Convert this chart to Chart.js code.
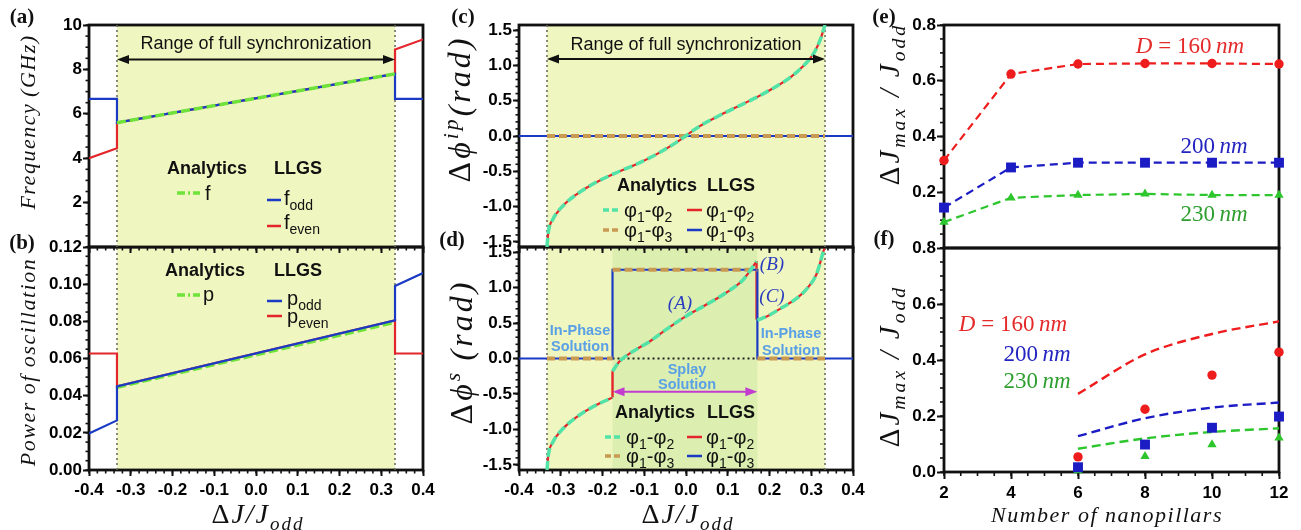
<!DOCTYPE html>
<html>
<head>
<meta charset="utf-8">
<script src="https://cdn.jsdelivr.net/npm/chart.js@4.4.0/dist/chart.umd.min.js"></script>
<style>
html, body { margin: 0; padding: 0; background: #fff; }
#fig { position: relative; width: 1301px; height: 530px; overflow: hidden; font-family: "Liberation Sans", Arial, sans-serif; color: #111; }
#fig canvas, #fig svg { position: absolute; left: 0; top: 0; }
.t { position: absolute; white-space: nowrap; line-height: 1; transform: translate(-50%, -50%); }
.l { position: absolute; white-space: nowrap; line-height: 1; transform: translateY(-50%); }
.rot { transform: translate(-50%, -50%) rotate(-90deg); }
.math { font-family: "Liberation Serif", "DejaVu Serif", serif; font-style: italic; font-size: 22px; letter-spacing: 1.5px; }
.math sub, .math sup { font-size: 0.68em; line-height: 0; }
.up { font-style: normal; }
.panel { font-family: "Liberation Serif", serif; font-weight: bold; font-size: 21px; }
.hd { font-weight: bold; font-size: 18px; }
.rng { font-size: 18px; }
.leg { font-size: 20px; }
.leg sub { font-size: 14px; line-height: 0; }
.note { font-weight: bold; font-size: 14.5px; color: #5aa0e6; }
.lab { font-family: "Liberation Serif", serif; font-style: italic; font-size: 19px; color: #2a3cc0; }
.dn { font-family: "Liberation Serif", serif; font-style: italic; font-size: 23px; }
</style>
</head>
<body>
<div id="fig">
  <canvas id="cb" width="1301" height="530"></canvas>
  <canvas id="cd" width="1301" height="530"></canvas>
  <canvas id="cf" width="1301" height="530"></canvas>
  <canvas id="ca" width="1301" height="530"></canvas>
  <canvas id="cc" width="1301" height="530"></canvas>
  <canvas id="ce" width="1301" height="530"></canvas>

  <svg width="1301" height="530">
    <!-- legend keys (a) -->
    <line x1="177" y1="193" x2="200" y2="193" stroke="#6fe33a" stroke-width="3.5" stroke-dasharray="8 3 2 3"/>
    <line x1="267" y1="200" x2="281" y2="200" stroke="#1b3bc4" stroke-width="2.5"/>
    <line x1="267" y1="226" x2="281" y2="226" stroke="#e3262b" stroke-width="2.5"/>
    <!-- legend keys (b) -->
    <line x1="177" y1="295" x2="200" y2="295" stroke="#6fe33a" stroke-width="3.5" stroke-dasharray="8 3 2 3"/>
    <line x1="267" y1="301" x2="282" y2="301" stroke="#1b3bc4" stroke-width="2.5"/>
    <line x1="267" y1="316" x2="282" y2="316" stroke="#e3262b" stroke-width="2.5"/>
    <!-- legend keys (c) -->
    <line x1="603" y1="210" x2="619" y2="210" stroke="#52e3a8" stroke-width="3.5" stroke-dasharray="6 3"/>
    <line x1="687" y1="210" x2="702" y2="210" stroke="#e3262b" stroke-width="2.5"/>
    <line x1="603" y1="230" x2="619" y2="230" stroke="#c99a52" stroke-width="3.5" stroke-dasharray="6 3"/>
    <line x1="687" y1="230" x2="702" y2="230" stroke="#1b3bc4" stroke-width="2.5"/>
    <!-- legend keys (d) -->
    <line x1="605" y1="437" x2="621" y2="437" stroke="#52e3a8" stroke-width="3.5" stroke-dasharray="6 3"/>
    <line x1="687" y1="437" x2="702" y2="437" stroke="#e3262b" stroke-width="2.5"/>
    <line x1="605" y1="456" x2="621" y2="456" stroke="#c99a52" stroke-width="3.5" stroke-dasharray="6 3"/>
    <line x1="687" y1="456" x2="702" y2="456" stroke="#1b3bc4" stroke-width="2.5"/>
  </svg>

  <!-- panel letters -->
  <div class="t panel" style="left:22px;top:16px">(a)</div>
  <div class="t panel" style="left:22px;top:242px">(b)</div>
  <div class="t panel" style="left:463px;top:16px">(c)</div>
  <div class="t panel" style="left:452px;top:239px">(d)</div>
  <div class="t panel" style="left:884px;top:16px">(e)</div>
  <div class="t panel" style="left:884px;top:238px">(f)</div>

  <!-- axis titles -->
  <div class="t rot math" style="left:28px;top:122px">Frequency&#8201;(GHz)</div>
  <div class="t rot math" style="left:28px;top:362px">Power of oscillation</div>
  <div class="t math" style="left:258px;top:514px;font-size:28px;letter-spacing:2px"><span class="up">Δ</span>J/J<sub>odd</sub></div>
  <div class="t math" style="left:688px;top:514px;font-size:28px;letter-spacing:2px"><span class="up">Δ</span>J/J<sub>odd</sub></div>
  <div class="t rot math" style="left:459px;top:109px;font-size:32px;letter-spacing:3px"><span class="up">Δ</span>ϕ<sup>ip</sup>(rad)</div>
  <div class="t rot math" style="left:461px;top:352px;font-size:32px;letter-spacing:3px"><span class="up">Δ</span>ϕ<sup>s</sup>&#8201;(rad)</div>
  <div class="t rot math" style="left:889px;top:104px;font-size:29px;letter-spacing:3px"><span class="up">Δ</span>J<sub>max</sub>&#8201;/&#8201;J<sub>odd</sub></div>
  <div class="t rot math" style="left:889px;top:366px;font-size:29px;letter-spacing:3px"><span class="up">Δ</span>J<sub>max</sub>&#8201;/&#8201;J<sub>odd</sub></div>
  <div class="t math" style="left:1107px;top:515px">Number of nanopillars</div>

  <!-- (a) -->
  <div class="t rng" style="left:256px;top:43px">Range of full synchronization</div>
  <div class="t hd" style="left:207px;top:168px">Analytics</div>
  <div class="t hd" style="left:298px;top:168px">LLGS</div>
  <div class="l leg" style="left:205px;top:193px">f</div>
  <div class="l leg" style="left:284px;top:198px">f<sub>odd</sub></div>
  <div class="l leg" style="left:284px;top:222px">f<sub>even</sub></div>

  <!-- (b) -->
  <div class="t hd" style="left:205px;top:270px">Analytics</div>
  <div class="t hd" style="left:298px;top:270px">LLGS</div>
  <div class="l leg" style="left:203px;top:294px">p</div>
  <div class="l leg" style="left:287px;top:298px">p<sub>odd</sub></div>
  <div class="l leg" style="left:287px;top:316px">p<sub>even</sub></div>

  <!-- (c) -->
  <div class="t rng" style="left:686px;top:44px">Range of full synchronization</div>
  <div class="t hd" style="left:657px;top:185px">Analytics</div>
  <div class="t hd" style="left:731px;top:185px">LLGS</div>
  <div class="l leg" style="left:624px;top:210px">φ<sub>1</sub>-φ<sub>2</sub></div>
  <div class="l leg" style="left:706px;top:210px">φ<sub>1</sub>-φ<sub>2</sub></div>
  <div class="l leg" style="left:624px;top:230px">φ<sub>1</sub>-φ<sub>3</sub></div>
  <div class="l leg" style="left:706px;top:230px">φ<sub>1</sub>-φ<sub>3</sub></div>

  <!-- (d) -->
  <div class="t note" style="left:580px;top:330px">In-Phase</div>
  <div class="t note" style="left:580px;top:346px">Solution</div>
  <div class="t note" style="left:791px;top:333px">In-Phase</div>
  <div class="t note" style="left:791px;top:350px">Solution</div>
  <div class="t note" style="left:687px;top:369px">Splay</div>
  <div class="t note" style="left:687px;top:384px">Solution</div>
  <div class="t lab" style="left:680px;top:302px">(A)</div>
  <div class="t lab" style="left:772px;top:263px">(B)</div>
  <div class="t lab" style="left:772px;top:295px">(C)</div>
  <div class="t hd" style="left:655px;top:412px">Analytics</div>
  <div class="t hd" style="left:731px;top:412px">LLGS</div>
  <div class="l leg" style="left:626px;top:437px">φ<sub>1</sub>-φ<sub>2</sub></div>
  <div class="l leg" style="left:706px;top:437px">φ<sub>1</sub>-φ<sub>2</sub></div>
  <div class="l leg" style="left:626px;top:456px">φ<sub>1</sub>-φ<sub>3</sub></div>
  <div class="l leg" style="left:706px;top:456px">φ<sub>1</sub>-φ<sub>3</sub></div>

  <!-- (e) -->
  <div class="t dn" style="left:1190px;top:45px;color:#e52a2a">D <span class="up">=</span> <span class="up">160</span>&#8201;nm</div>
  <div class="t dn" style="left:1214px;top:145px;color:#2424c0"><span class="up">200</span>&#8201;nm</div>
  <div class="t dn" style="left:1214px;top:213px;color:#2e9e2e"><span class="up">230</span>&#8201;nm</div>

  <!-- (f) -->
  <div class="t dn" style="left:1013px;top:323px;color:#e52a2a">D <span class="up">=</span> <span class="up">160</span>&#8201;nm</div>
  <div class="t dn" style="left:1037px;top:353px;color:#2424c0"><span class="up">200</span>&#8201;nm</div>
  <div class="t dn" style="left:1037px;top:380px;color:#2e9e2e"><span class="up">230</span>&#8201;nm</div>
</div>

<script>
// ---------- values ----------
const detuningRange = [-0.4, 0.4];
const detuningTicks = [-0.4, -0.3, -0.2, -0.1, 0, 0.1, 0.2, 0.3, 0.4];
const syncEdges = [-0.333, 0.333];
const splayEdges = [-0.176, 0.171];

// (a) frequency (GHz)
const freqRange = [0, 10];
const freqTicks = [2, 4, 6, 8, 10];
const freqOdd = [[-0.4, 6.67], [-0.333, 6.67], [-0.333, 5.6], [0.333, 7.8], [0.333, 6.67], [0.4, 6.67]];
const freqEven = [[-0.4, 4.0], [-0.333, 4.45], [-0.333, 5.6], [0.333, 7.8], [0.333, 8.9], [0.4, 9.35]];
const freqAnalytic = [[-0.333, 5.6], [0.333, 7.8]];

// (b) power of oscillation
const powerRange = [0, 0.12];
const powerTicks = [0, 0.02, 0.04, 0.06, 0.08, 0.1, 0.12];
const powerOdd = [[-0.4, 0.0197], [-0.333, 0.0267], [-0.333, 0.045], [0.333, 0.0805], [0.333, 0.099], [0.4, 0.106]];
const powerEven = [[-0.4, 0.0627], [-0.333, 0.0627], [-0.333, 0.045], [0.333, 0.0805], [0.333, 0.0627], [0.4, 0.0627]];
const powerAnalytic = [[-0.333, 0.0445], [0.333, 0.0795]];

// (c) in-phase phase difference (rad)
const phaseRange = [-1.5708, 1.5708];
const phaseTicks = [-1.5, -1, -0.5, 0, 0.5, 1, 1.5];
const inPhase12 = [[-0.333, -1.57], [-0.330, -1.37], [-0.319, -1.18], [-0.295, -0.99], [-0.263, -0.83],
  [-0.223, -0.68], [-0.175, -0.54], [-0.119, -0.40], [-0.071, -0.26], [-0.023, -0.09], [0.033, 0.14],
  [0.08, 0.29], [0.125, 0.42], [0.17, 0.55], [0.21, 0.68], [0.25, 0.83], [0.281, 0.99], [0.307, 1.18],
  [0.322, 1.37], [0.333, 1.57]];
const inPhase13 = [[-0.4, 0], [0.4, 0]];
const inPhase13Analytic = [[-0.333, 0], [0.333, 0]];

// (d) splay phase difference (rad)
const splayLeft = [[-0.333, -1.57], [-0.330, -1.37], [-0.319, -1.18], [-0.295, -0.99], [-0.263, -0.83],
  [-0.223, -0.68], [-0.176, -0.55]];
const splayMid = [[-0.176, -0.18], [-0.159, -0.04], [-0.127, 0.10], [-0.087, 0.24], [-0.047, 0.41],
  [0.001, 0.60], [0.049, 0.76], [0.097, 0.93], [0.137, 1.11], [0.155, 1.25], [0.169, 1.37]];
const splayRight = [[0.171, 0.54], [0.196, 0.60], [0.228, 0.71], [0.268, 0.86], [0.292, 1.0],
  [0.312, 1.18], [0.320, 1.32], [0.328, 1.49], [0.333, 1.57]];
const splayJumps = [[-0.176, -0.55], [-0.176, -0.18], null, [0.169, 1.37], [0.169, 0.55]];
const splay13 = [[-0.4, 0], [-0.176, 0], [-0.176, 1.25], [0.171, 1.25], [0.171, 0], [0.4, 0]];
const splay13Analytic = [[-0.333, 0], [-0.176, 0], null, [-0.176, 1.25], [0.171, 1.25], null, [0.171, 0], [0.333, 0]];
const splayZero = [[-0.176, 0], [0.171, 0]];

// (e) max detuning vs number of pillars
const pillars = [2, 4, 6, 8, 10, 12];
const pillarTicks = [2, 4, 6, 8, 10, 12];
const jRange = [0, 0.8];
const jTicksE = [0.2, 0.4, 0.6, 0.8];
const jTicksF = [0, 0.2, 0.4, 0.6, 0.8];
const jmax160 = [0.314, 0.624, 0.66, 0.662, 0.662, 0.66];
const jmax200 = [0.145, 0.289, 0.306, 0.306, 0.306, 0.306];
const jmax230 = [0.093, 0.18, 0.19, 0.194, 0.19, 0.19];

// (f) splay solution: LLGS points and model curves
const pillarsF = [6, 8, 10, 12];
const llgs160 = [0.054, 0.224, 0.346, 0.428];
const llgs200 = [0.017, 0.098, 0.158, 0.198];
const llgs230 = [0.005, 0.056, 0.098, 0.122];
const model160 = [0.279, 0.42, 0.493, 0.538];
const model200 = [0.128, 0.192, 0.23, 0.248];
const model230 = [0.083, 0.12, 0.143, 0.156];

// ---------- styling ----------
const W = 1301, H = 530, YW = 60, XH = 30;
const RED = '#e3262b', BLUE = '#1b3bc4', LIME = '#6fe33a', MINT = '#52e3a8', TAN = '#c99a52';
const GREY = '#6d6d5e', BAND = '#eff6bf', SPLAY = '#dcefb0';
const ERED = '#ee1c1c', EBLUE = '#1c1cc4', EGREEN = '#2dc62d';
const TICK_FONT = {family: 'Liberation Sans', size: 17, weight: 'bold'};

const zip = (xs, ys) => xs.map((x, i) => [x, ys[i]]);

function xy(arr) {
  return arr.map((p, i) => p ? {x: p[0], y: p[1]} : {x: arr[i - 1][0], y: null});
}

function lineSet(arr, color, width, dash, smooth) {
  return {
    data: xy(arr), borderColor: color, backgroundColor: color, borderWidth: width,
    borderDash: dash || [], pointRadius: 0, fill: false, tension: 0,
    cubicInterpolationMode: smooth ? 'monotone' : 'default', spanGaps: false
  };
}

function markers(arr, color, style, radius) {
  return {
    data: xy(arr), showLine: false, pointStyle: style, pointRadius: radius,
    pointBackgroundColor: color, pointBorderColor: color, pointBorderWidth: 0, clip: false
  };
}

function vlines(edges, range) {
  return edges.map(e => lineSet([[e, range[0]], [e, range[1]]], GREY, 1.6, [2, 3]));
}

function axis(range, ticks, fmt, horiz, opts = {}) {
  return {
    type: 'linear', min: range[0], max: range[1],
    afterBuildTicks: s => { s.ticks = ticks.map(v => ({value: v})); },
    afterFit: s => {
      if (horiz) { s.height = XH; s.paddingLeft = 0; s.paddingRight = 0; }
      else { s.width = YW; s.paddingTop = 0; s.paddingBottom = 0; }
    },
    ticks: {autoSkip: false, maxRotation: 0, minRotation: 0, font: TICK_FONT, color: '#000',
      padding: horiz ? 4 : 1, callback: fmt},
    grid: {display: opts.marks !== false, drawOnChartArea: false, drawTicks: true,
      tickLength: opts.len || 6, tickWidth: 2, tickColor: '#111'},
    border: {display: false}
  };
}

// bands, minor ticks, frame and arrows
const decor = {
  id: 'decor',
  beforeDatasetsDraw(chart, args, o) {
    const {ctx, chartArea: a, scales: {x, y}} = chart;
    ctx.save();
    (o.bands || []).forEach(b => {
      const x1 = x.getPixelForValue(b.from), x2 = x.getPixelForValue(b.to);
      ctx.fillStyle = b.color;
      ctx.fillRect(x1, a.top, x2 - x1, a.bottom - a.top);
    });
    ctx.strokeStyle = '#111';
    ctx.lineWidth = 1.6;
    const minor = (s, step, horiz) => {
      if (!step) return;
      for (let i = Math.ceil(s.min / step - 1e-6); i * step <= s.max + 1e-9; i++) {
        const p = s.getPixelForValue(i * step);
        ctx.beginPath();
        if (horiz) { ctx.moveTo(p, a.bottom); ctx.lineTo(p, a.bottom + o.minorLen); }
        else { ctx.moveTo(a.left, p); ctx.lineTo(a.left - o.minorLen, p); }
        ctx.stroke();
      }
    };
    minor(x, o.minorX, true);
    minor(y, o.minorY, false);
    ctx.lineWidth = 2.8;
    ctx.strokeRect(a.left, a.top, a.right - a.left, a.bottom - a.top);
    ctx.restore();
  },
  afterDatasetsDraw(chart, args, o) {
    const {ctx, scales: {x, y}} = chart;
    (o.arrows || []).forEach(ar => {
      const x1 = x.getPixelForValue(ar.from), x2 = x.getPixelForValue(ar.to), py = y.getPixelForValue(ar.y);
      ctx.save();
      ctx.strokeStyle = ctx.fillStyle = ar.color;
      ctx.lineWidth = 2;
      ctx.beginPath(); ctx.moveTo(x1 + 8, py); ctx.lineTo(x2 - 8, py); ctx.stroke();
      [[x1, 1], [x2, -1]].forEach(([px, d]) => {
        ctx.beginPath();
        ctx.moveTo(px, py); ctx.lineTo(px + d * 12, py - 4.5); ctx.lineTo(px + d * 12, py + 4.5);
        ctx.closePath(); ctx.fill();
      });
      ctx.restore();
    });
  }
};

function panel(id, box, x, y, datasets, decorOpts) {
  return new Chart(document.getElementById(id), {
    type: 'line',
    data: {datasets},
    options: {
      responsive: false, maintainAspectRatio: false, animation: false,
      layout: {padding: {left: box[0] - YW, top: box[1], right: W - box[2], bottom: H - box[3] - XH}},
      scales: {x, y},
      plugins: {legend: {display: false}, tooltip: {enabled: false}, decor: decorOpts}
    },
    plugins: [decor]
  });
}

const none = () => '';
const fix = n => v => v.toFixed(n);
const syncBand = {from: syncEdges[0], to: syncEdges[1], color: BAND};

// first dataset is drawn on top
panel('ca', [89, 25, 423, 247],
  axis(detuningRange, detuningTicks, none, true),
  axis(freqRange, freqTicks, v => String(v), false),
  [lineSet(freqAnalytic, LIME, 3.5, [9, 4]), lineSet(freqOdd, BLUE, 2.2), lineSet(freqEven, RED, 2.2),
    ...vlines(syncEdges, freqRange)],
  {bands: [syncBand], minorX: 0.02, minorY: 0.5, minorLen: 3.5,
    arrows: [{from: syncEdges[0], to: syncEdges[1], y: 8.45, color: '#111'}]});

panel('cb', [89, 247, 423, 470],
  axis(detuningRange, detuningTicks, fix(1), true),
  axis(powerRange, powerTicks, fix(2), false),
  [lineSet(powerOdd, BLUE, 2.2), lineSet(powerAnalytic, LIME, 3.5, [9, 4]), lineSet(powerEven, RED, 2.2),
    ...vlines(syncEdges, powerRange)],
  {bands: [syncBand], minorX: 0.02, minorY: 0.005, minorLen: 3.5});

panel('cc', [519, 25, 853, 247],
  axis(detuningRange, detuningTicks, none, true),
  axis(phaseRange, phaseTicks, fix(1), false),
  [lineSet(inPhase12, MINT, 3.5, [9, 4], true), lineSet(inPhase12, RED, 2.2, [], true),
    lineSet(inPhase13Analytic, TAN, 4, [8, 4]), lineSet(inPhase13, BLUE, 2.2),
    ...vlines(syncEdges, phaseRange)],
  {bands: [syncBand], minorX: 0.02, minorY: 0.1, minorLen: 3.5,
    arrows: [{from: syncEdges[0], to: syncEdges[1], y: 1.09, color: '#111'}]});

panel('cd', [519, 247, 853, 470],
  axis(detuningRange, detuningTicks, fix(1), true),
  axis(phaseRange, phaseTicks, fix(1), false),
  [lineSet(splayLeft, MINT, 3.5, [9, 4], true), lineSet(splayMid, MINT, 3.5, [9, 4], true),
    lineSet(splayRight, MINT, 3.5, [9, 4], true),
    lineSet(splay13Analytic, TAN, 4, [8, 4]), lineSet(splay13, BLUE, 2.2),
    lineSet(splayLeft, RED, 2.2, [], true), lineSet(splayMid, RED, 2.2, [], true),
    lineSet(splayRight, RED, 2.2, [], true), lineSet(splayJumps, RED, 2.4),
    lineSet(splayZero, '#222', 2, [2, 3]),
    ...vlines(syncEdges, phaseRange)],
  {bands: [syncBand, {from: splayEdges[0], to: splayEdges[1], color: SPLAY}], minorX: 0.02, minorY: 0.1,
    minorLen: 3.5, arrows: [{from: splayEdges[0], to: splayEdges[1], y: -0.47, color: '#c23ccf'}]});

const jmaxLine = (vals, color, style, r) => Object.assign(lineSet(zip(pillars, vals), color, 2.2, [8, 5]), {
  pointStyle: style, pointRadius: r, pointBackgroundColor: color, pointBorderColor: color, pointBorderWidth: 0, clip: false
});

panel('ce', [944, 25, 1279, 248],
  axis([2, 12], pillarTicks, none, true, {marks: false}),
  axis(jRange, jTicksE, fix(1), false, {len: 7}),
  [jmaxLine(jmax160, ERED, 'circle', 4.7), jmaxLine(jmax200, EBLUE, 'rect', 7), jmaxLine(jmax230, EGREEN, 'triangle', 5.4)],
  {minorY: 0.05, minorLen: 4});

panel('cf', [944, 248, 1279, 472],
  axis([2, 12], pillarTicks, v => String(v), true, {len: 7}),
  axis(jRange, jTicksF, fix(1), false, {len: 7}),
  [markers(zip(pillarsF, llgs160), ERED, 'circle', 4.7), markers(zip(pillarsF, llgs200), EBLUE, 'rect', 7),
    markers(zip(pillarsF, llgs230), EGREEN, 'triangle', 5.4),
    lineSet(zip(pillarsF, model160), ERED, 2.4, [9, 5], true), lineSet(zip(pillarsF, model200), EBLUE, 2.4, [9, 5], true),
    lineSet(zip(pillarsF, model230), EGREEN, 2.4, [9, 5], true)],
  {minorX: 0.5, minorY: 0.05, minorLen: 4});
</script>
</body>
</html>
